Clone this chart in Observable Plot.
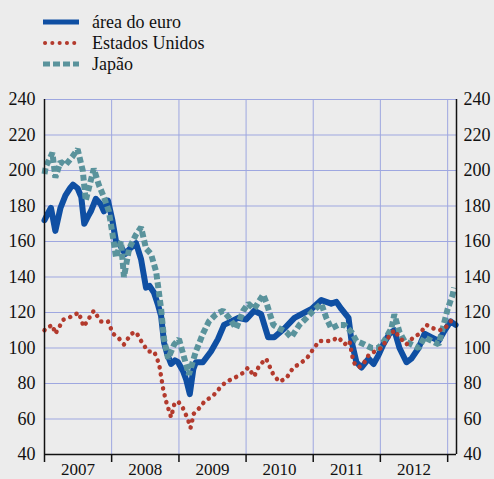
<!DOCTYPE html>
<html>
<head>
<meta charset="utf-8">
<script src="https://cdn.jsdelivr.net/npm/d3@7"></script>
<script src="https://cdn.jsdelivr.net/npm/@observablehq/plot@0.6"></script>
<style>
  html, body { margin: 0; padding: 0; background: #ececec; width: 494px; height: 479px; overflow: hidden; }
  #legend { position: relative; height: 85px; font-family: "Liberation Serif", "DejaVu Serif", serif; font-size: 18px; color: #111; }
  .item { position: absolute; left: 43px; height: 20px; display: flex; align-items: center; }
  .item svg { width: 36px; height: 10px; margin-right: 13px; }
  #chart svg { display: block; }
</style>
</head>
<body>
<div id="legend"></div>
<div id="chart"></div>
<script>
// ---- data ----
const seriesNames = ["área do euro", "Estados Unidos", "Japão"];
const seriesColors = ["#0f4fa3", "#b33a2d", "#5a939c"];
const yTicks = [40, 60, 80, 100, 120, 140, 160, 180, 200, 220, 240];
const yearLabels = ["2007", "2008", "2009", "2010", "2011", "2012"];

const euroArea = [
  ["2007-01-01",172],["2007-01-20",176],["2007-02-05",179],["2007-03-01",166],["2007-03-29",179],
  ["2007-04-25",186],["2007-05-20",190],["2007-06-05",192],["2007-06-30",190],["2007-07-20",185],
  ["2007-08-05",170],["2007-08-25",174],["2007-09-10",177],["2007-10-07",184],["2007-11-03",181],
  ["2007-11-20",177],["2007-12-12",183],["2008-01-05",172],["2008-01-25",160],["2008-02-15",158],
  ["2008-03-15",153],["2008-04-10",156],["2008-05-13",159],["2008-06-09",150],["2008-07-06",134],
  ["2008-07-25",135],["2008-08-19",131],["2008-09-10",124],["2008-09-26",118],["2008-10-12",103],
  ["2008-10-28",97],["2008-11-19",91],["2008-12-10",93],["2008-12-27",92],["2009-01-23",87],
  ["2009-02-10",82],["2009-03-01",74],["2009-03-20",88],["2009-04-03",92],["2009-05-11",92],
  ["2009-06-24",98],["2009-08-01",105],["2009-09-03",113],["2009-10-12",115],["2009-11-19",117],
  ["2010-01-01",116],["2010-02-14",121],["2010-03-24",119],["2010-05-01",106],["2010-06-03",106],
  ["2010-07-28",111],["2010-09-21",117],["2010-10-29",119],["2010-12-23",122],["2011-02-14",127],
  ["2011-04-09",125],["2011-05-07",126],["2011-06-03",122],["2011-07-12",117],["2011-07-28",104],
  ["2011-08-24",92],["2011-09-20",89],["2011-10-29",94],["2011-11-25",91],["2011-12-22",96],
  ["2012-01-17",102],["2012-02-19",108],["2012-03-17",110],["2012-04-14",100],["2012-05-22",92],
  ["2012-06-18",94],["2012-07-27",100],["2012-08-28",108],["2012-10-06",106],["2012-11-13",104],
  ["2012-12-16",110],["2013-01-17",115],["2013-02-13",113]
];

const unitedStates = [
  ["2007-01-01",110],["2007-01-08",111],["2007-02-13",113],["2007-03-01",108],["2007-04-14",116],
  ["2007-06-03",118],["2007-07-06",120],["2007-08-02",112],["2007-09-26",121],["2007-11-03",115],
  ["2007-12-12",115],["2008-01-09",108],["2008-02-05",106],["2008-03-08",102],["2008-04-16",108],
  ["2008-05-13",109],["2008-06-09",104],["2008-07-17",98],["2008-08-19",98],["2008-09-15",91],
  ["2008-10-07",77],["2008-10-23",70],["2008-11-19",61],["2008-12-06",68],["2008-12-27",70],
  ["2009-01-23",66],["2009-02-18",60],["2009-03-05",55],["2009-03-23",63],["2009-04-30",67],
  ["2009-05-20",70],["2009-07-05",73],["2009-08-07",77],["2009-09-14",81],["2009-10-28",83],
  ["2009-12-16",86],["2010-01-12",89],["2010-02-14",84],["2010-03-13",90],["2010-04-20",94],
  ["2010-05-29",85],["2010-07-01",81],["2010-08-08",83],["2010-09-15",89],["2010-10-18",91],
  ["2010-11-26",94],["2010-12-23",98],["2011-02-03",104],["2011-04-09",104],["2011-05-18",106],
  ["2011-06-20",102],["2011-07-17",104],["2011-08-08",92],["2011-09-04",89],["2011-10-01",91],
  ["2011-10-29",96],["2011-12-01",98],["2012-01-06",100],["2012-02-14",106],["2012-03-17",110],
  ["2012-04-14",106],["2012-05-22",102],["2012-06-29",106],["2012-08-01",108],["2012-09-08",113],
  ["2012-10-16",111],["2012-11-18",110],["2012-12-16",111],["2013-01-17",115],["2013-02-13",118]
];

const japan = [
  ["2007-01-01",198],["2007-01-08",202],["2007-02-13",210],["2007-03-01",196],["2007-03-29",205],
  ["2007-04-25",203],["2007-06-03",208],["2007-06-30",212],["2007-07-28",200],["2007-08-13",183],
  ["2007-09-26",201],["2007-10-23",192],["2007-11-20",185],["2007-12-17",177],["2008-01-09",162],
  ["2008-01-25",151],["2008-02-21",160],["2008-03-08",140],["2008-04-05",156],["2008-05-13",164],
  ["2008-06-09",168],["2008-07-06",156],["2008-08-02",153],["2008-08-30",143],["2008-09-26",122],
  ["2008-10-12",105],["2008-11-03",94],["2008-12-06",102],["2009-01-01",105],["2009-02-08",91],
  ["2009-02-24",85],["2009-04-03",98],["2009-05-11",108],["2009-06-13",115],["2009-07-21",119],
  ["2009-08-29",121],["2009-10-01",117],["2009-11-08",111],["2009-12-16",121],["2010-01-12",125],
  ["2010-02-14",122],["2010-04-04",130],["2010-04-20",126],["2010-05-29",113],["2010-07-01",111],
  ["2010-08-08",109],["2010-09-04",106],["2010-10-18",113],["2010-11-26",117],["2011-01-01",121],
  ["2011-02-14",125],["2011-03-13",117],["2011-04-09",111],["2011-05-18",113],["2011-06-20",113],
  ["2011-07-28",109],["2011-08-24",104],["2011-10-07",102],["2011-11-14",100],["2011-12-22",100],
  ["2012-01-22",104],["2012-03-01",111],["2012-03-17",119],["2012-04-14",109],["2012-05-11",104],
  ["2012-06-18",102],["2012-07-27",100],["2012-08-28",106],["2012-10-06",104],["2012-11-13",102],
  ["2012-12-10",113],["2013-01-01",122],["2013-01-28",130],["2013-02-05",134]
];

// ---- build ----
const toRows = (arr) => arr.map(([d, v]) => ({date: new Date(d + "T00:00:00Z"), value: v}));
const rowsEuro = toRows(euroArea), rowsUS = toRows(unitedStates), rowsJP = toRows(japan);

const xStart = new Date("2007-01-01T00:00:00Z");
const xEnd = new Date("2013-02-18T00:00:00Z");
const yearStarts = d3.range(2007, 2014).map(y => new Date(Date.UTC(y, 0, 1)));
const yearMids = yearLabels.map(y => ({date: new Date(Date.UTC(+y, 6, 2)), label: y}));
const gridColor = "#9ea7e0";
const serif = "'Liberation Serif', 'DejaVu Serif', serif";

// legend
const styles = [
  {dash: null, width: 5, cap: "butt"},
  {dash: "0.1,7.2", width: 4, cap: "round"},
  {dash: "7,3", width: 5, cap: "butt"}
];
const legend = document.getElementById("legend");
seriesNames.forEach((name, i) => {
  const tops = [12, 33, 54];
  const div = document.createElement("div");
  div.className = "item";
  div.style.top = tops[i] + "px";
  const s = styles[i];
  div.innerHTML = `<svg viewBox="0 0 36 10"><line x1="${s.cap === "round" ? 2 : 0}" x2="36" y1="5" y2="5" stroke="${seriesColors[i]}" stroke-width="${s.width}" ${s.dash ? `stroke-dasharray="${s.dash}"` : ""} stroke-linecap="${s.cap}"/></svg><span>${name}</span>`;
  legend.appendChild(div);
});

const chart = Plot.plot({
  width: 494,
  height: 394,
  marginLeft: 44,
  marginRight: 38,
  marginTop: 14,
  marginBottom: 25,
  style: {background: "transparent", fontFamily: serif, fontSize: "18px", color: "#111", overflow: "visible"},
  x: {type: "utc", domain: [xStart, xEnd], axis: null},
  y: {domain: [40, 240], axis: null},
  marks: [
    Plot.ruleY(yTicks, {stroke: gridColor, strokeWidth: 1}),
    Plot.ruleX(yearStarts.slice(1), {stroke: gridColor, strokeWidth: 1}),
    Plot.line(rowsEuro, {x: "date", y: "value", stroke: seriesColors[0], strokeWidth: 6, strokeLinejoin: "round"}),
    Plot.line(rowsJP, {x: "date", y: "value", stroke: seriesColors[2], strokeWidth: 6, strokeDasharray: "6,3", strokeLinecap: "butt", strokeLinejoin: "miter"}),
    Plot.line(rowsUS, {x: "date", y: "value", stroke: seriesColors[1], strokeWidth: 4.5, strokeDasharray: "0.1,7", strokeLinecap: "round"}),
    Plot.ruleX([xStart, xEnd], {stroke: "#111", strokeWidth: 1.5}),
    Plot.ruleY([40], {stroke: "#111", strokeWidth: 1.5}),
    Plot.axisY(yTicks, {anchor: "left", tickSize: 0, tickPadding: 9, label: null}),
    Plot.axisY(yTicks, {anchor: "right", tickSize: 0, tickPadding: 7, label: null}),
    Plot.axisX(yearStarts, {anchor: "bottom", tickSize: 8, tickFormat: () => "", strokeWidth: 1.5, label: null}),
    Plot.text(yearMids, {x: "date", text: "label", frameAnchor: "bottom", lineAnchor: "bottom", dy: 20, fontSize: 17})
  ]
});
document.getElementById("chart").appendChild(chart);
</script>
</body>
</html>
